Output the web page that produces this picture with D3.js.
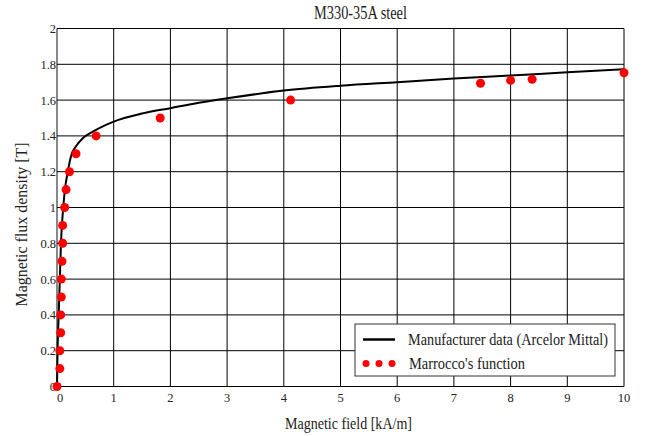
<!DOCTYPE html>
<html>
<head>
<meta charset="utf-8">
<script src="https://cdn.jsdelivr.net/npm/d3@7"></script>
<style>
  body { margin: 0; background: #fff; }
  text { font-family: "Liberation Serif", "Times New Roman", serif; fill: #222; }
</style>
</head>
<body>
<svg id="chart" width="654" height="436"></svg>
<script>
// manufacturer curve (Arcelor Mittal), H [kA/m] vs B [T]
const mfgH = [0, 0.005, 0.01, 0.03, 0.05, 0.07, 0.11, 0.14, 0.19, 0.26, 0.32, 0.45, 0.64, 1, 1.5, 2, 2.5, 3, 4, 5, 6, 7, 8, 9, 10]
const mfgB = [0, 0.1, 0.2, 0.4, 0.6, 0.8, 1.0, 1.1, 1.2, 1.3, 1.335, 1.385, 1.425, 1.48, 1.525, 1.555, 1.585, 1.61, 1.653, 1.68, 1.70, 1.72, 1.737, 1.755, 1.772]

// Marrocco's function points
const marH = [0, 0.05, 0.05, 0.065, 0.065, 0.076, 0.076, 0.088, 0.1, 0.1, 0.135, 0.16, 0.22, 0.335, 0.69, 1.82, 4.12, 7.47, 8.0, 8.38, 10]
const marB = [0, 0.1, 0.2, 0.3, 0.4, 0.5, 0.6, 0.7, 0.8, 0.9, 1.0, 1.1, 1.2, 1.3, 1.4, 1.5, 1.6, 1.694, 1.71, 1.716, 1.753]

const xTicks = [0, 1, 2, 3, 4, 5, 6, 7, 8, 9, 10]
const yTicks = [0, 0.2, 0.4, 0.6, 0.8, 1, 1.2, 1.4, 1.6, 1.8, 2]

const svg = d3.select('#chart')
const plotL = 57, plotR = 624, plotT = 28.5, plotB = 386.5

const x = d3.scaleLinear().domain([0, 10]).range([plotL, plotR])
const y = d3.scaleLinear().domain([0, 2]).range([plotB, plotT])

// grid
svg.append('g')
  .selectAll('line')
  .data(xTicks)
  .enter()
  .append('line')
  .attr('x1', d => x(d)).attr('x2', d => x(d))
  .attr('y1', plotT).attr('y2', plotB)
  .attr('stroke', d => d === 0 ? '#888' : '#000')
  .attr('stroke-width', d => d === 0 ? 2 : 1)

svg.append('g')
  .selectAll('line')
  .data(yTicks)
  .enter()
  .append('line')
  .attr('x1', plotL).attr('x2', plotR)
  .attr('y1', d => y(d)).attr('y2', d => y(d))
  .attr('stroke', '#000')
  .attr('stroke-width', 1)

// tick labels
svg.append('g')
  .selectAll('text')
  .data(yTicks)
  .enter()
  .append('text')
  .attr('x', plotL - 1)
  .attr('y', d => y(d) + 4.5)
  .attr('text-anchor', 'end')
  .attr('font-size', 12.5)
  .text(d => d)

svg.append('g')
  .selectAll('text')
  .data(xTicks)
  .enter()
  .append('text')
  .attr('x', d => d === 0 ? x(d) + 3 : x(d))
  .attr('y', plotB + 15)
  .attr('text-anchor', 'middle')
  .attr('font-size', 12.5)
  .text(d => d)

// manufacturer curve
const pts = mfgH.map((h, i) => [h, mfgB[i]])
svg.append('path')
  .datum(pts)
  .attr('fill', 'none')
  .attr('stroke', '#000')
  .attr('stroke-width', 2)
  .attr('d', d3.line().x(d => x(d[0])).y(d => y(d[1])).curve(d3.curveMonotoneX))

// Marrocco's points
svg.append('g')
  .selectAll('circle')
  .data(marH.map((h, i) => [h, marB[i]]))
  .enter()
  .append('circle')
  .attr('cx', d => x(d[0]))
  .attr('cy', d => y(d[1]))
  .attr('r', 4.5)
  .attr('fill', '#ff0000')

// titles (narrow serif, so squeeze to the reference widths)
svg.append('text')
  .attr('x', 314).attr('y', 18.5)
  .attr('font-size', 18)
  .attr('textLength', 93)
  .attr('lengthAdjust', 'spacingAndGlyphs')
  .text('M330-35A steel')

svg.append('text')
  .attr('x', 285).attr('y', 428.5)
  .attr('font-size', 16.5)
  .attr('textLength', 127)
  .attr('lengthAdjust', 'spacingAndGlyphs')
  .text('Magnetic field [kA/m]')

svg.append('text')
  .attr('transform', 'translate(27,306.5) rotate(-90)')
  .attr('font-size', 16.5)
  .attr('textLength', 164)
  .attr('lengthAdjust', 'spacingAndGlyphs')
  .text('Magnetic flux density [T]')

// legend
const lg = svg.append('g')
lg.append('rect')
  .attr('x', 355).attr('y', 324)
  .attr('width', 260).attr('height', 52)
  .attr('fill', '#fff')
  .attr('stroke', '#333')
  .attr('stroke-width', 1)
lg.append('line')
  .attr('x1', 363).attr('x2', 395)
  .attr('y1', 339.5).attr('y2', 339.5)
  .attr('stroke', '#000')
  .attr('stroke-width', 2.5)
lg.selectAll('circle')
  .data([366, 379, 392])
  .enter()
  .append('circle')
  .attr('cx', d => d).attr('cy', 363.5)
  .attr('r', 3.5)
  .attr('fill', '#ff0000')
lg.append('text')
  .attr('x', 408).attr('y', 345)
  .attr('font-size', 16.5)
  .attr('textLength', 200)
  .attr('lengthAdjust', 'spacingAndGlyphs')
  .text('Manufacturer data (Arcelor Mittal)')
lg.append('text')
  .attr('x', 409).attr('y', 369)
  .attr('font-size', 16.5)
  .attr('textLength', 116)
  .attr('lengthAdjust', 'spacingAndGlyphs')
  .text("Marrocco's function")
</script>
</body>
</html>
